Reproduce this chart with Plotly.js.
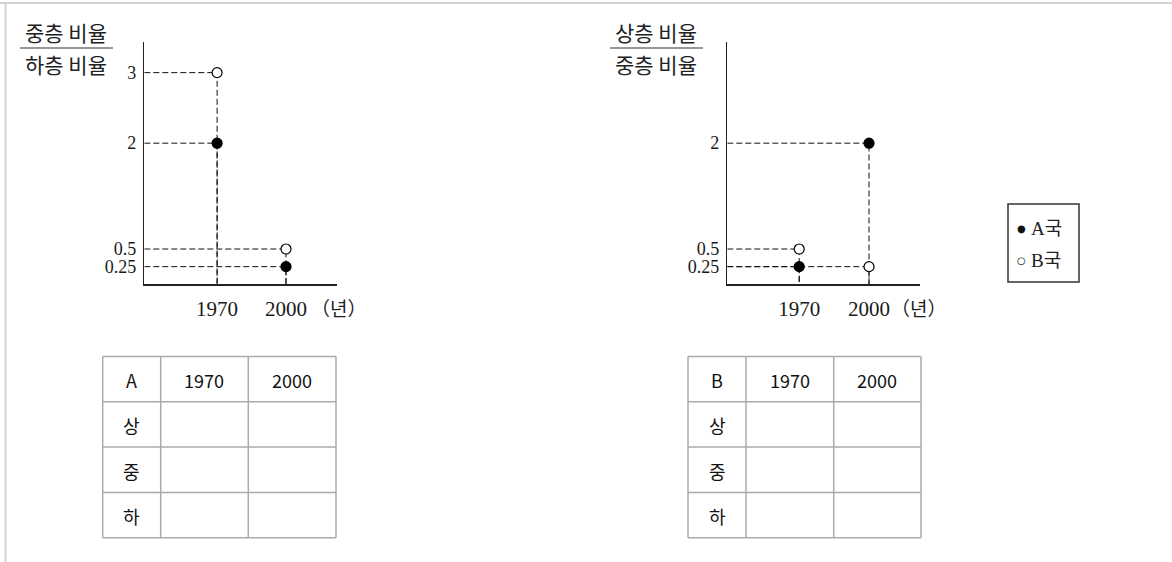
<!DOCTYPE html>
<html>
<head>
<meta charset="utf-8">
<script src="https://cdn.plot.ly/plotly-3.0.1.min.js"></script>
<style>
html, body { margin: 0; padding: 0; background: #fff; }
#chart { width: 1172px; height: 562px; }
</style>
</head>
<body>
<div id="chart"></div>
<script>
// data
var years = [1970, 2000];
var aMidLow = [2, 0.25];    // A국: 중층 비율 / 하층 비율
var bMidLow = [3, 0.5];     // B국
var aUpMid = [0.25, 2];     // A국: 상층 비율 / 중층 비율
var bUpMid = [0.5, 0.25];   // B국
var ticksMidLow = [0.25, 0.5, 2, 3];
var ticksUpMid = [0.25, 0.5, 2];
var tableRows = ['상', '중', '하'];
var tableCols = ['1970', '2000'];
var countries = ['A', 'B'];

var W = 1172, H = 562;
function px(x) { return x / W; }
function py(y) { return 1 - y / H; }

var xRange1 = [1938.3, 2022.2];
var xRange2 = [1939.1, 2021.9];
var yRange = [0, 3.434];

var serif = 'Liberation Serif, Times New Roman, serif';
var kor = 'Noto Sans CJK KR, sans-serif';

// dashed guide lines: from the y axis to the point, then down to the x axis
function guides(ys, xa, ya, x0) {
    return years.map(function(yr, i) {
        return {
            x: [x0, yr, yr], y: [ys[i], ys[i], 0],
            xaxis: xa, yaxis: ya, mode: 'lines', type: 'scatter',
            line: { color: '#111', width: 1, dash: '6px,3px' },
            hoverinfo: 'skip', showlegend: false
        };
    });
}

function points(ys, xa, ya, filled) {
    return {
        x: years, y: ys, xaxis: xa, yaxis: ya, mode: 'markers', type: 'scatter',
        marker: { size: 10, color: filled ? '#000' : '#fff', line: { color: '#000', width: 1.2 } },
        showlegend: false
    };
}

var data = [].concat(
    guides(bMidLow, 'x', 'y', xRange1[0]),
    guides(aMidLow, 'x', 'y', xRange1[0]),
    guides(bUpMid, 'x2', 'y2', xRange2[0]),
    guides(aUpMid, 'x2', 'y2', xRange2[0]),
    [
        points(aMidLow, 'x', 'y', true),
        points(bMidLow, 'x', 'y', false),
        points(aUpMid, 'x2', 'y2', true),
        points(bUpMid, 'x2', 'y2', false)
    ]
);

function xAxis(dom, range) {
    return {
        domain: dom, range: range, tickvals: years, ticktext: years.map(String),
        showline: true, linecolor: '#222', linewidth: 1.5, showgrid: false, zeroline: false,
        ticks: '', ticklabelstandoff: 5, tickfont: { family: serif, size: 21, color: '#1a1a1a' },
        fixedrange: true
    };
}
function yAxis(dom, vals, anchor) {
    return {
        domain: dom, range: yRange, tickvals: vals, ticktext: vals.map(String), anchor: anchor,
        showline: true, linecolor: '#222', linewidth: 1.5, showgrid: false, zeroline: false,
        ticks: '', ticklabelstandoff: 3, tickfont: { family: serif, size: 18, color: '#1a1a1a' },
        fixedrange: true
    };
}

var yDom = [py(284.3), py(42)];

var annotations = [];
var shapes = [];

function note(text, x, y, font, xanchor) {
    annotations.push({
        text: text, x: px(x), y: py(y), xref: 'paper', yref: 'paper',
        xanchor: xanchor || 'center', yanchor: 'middle', showarrow: false, font: font
    });
}
function hline(x0, x1, y, color, width) {
    shapes.push({ type: 'line', xref: 'paper', yref: 'paper', x0: px(x0), x1: px(x1),
        y0: py(y), y1: py(y), line: { color: color, width: width } });
}
function vline(x, y0, y1, color, width) {
    shapes.push({ type: 'line', xref: 'paper', yref: 'paper', x0: px(x), x1: px(x),
        y0: py(y0), y1: py(y1), line: { color: color, width: width } });
}

// axis titles written as fractions
var titleFont = { family: kor, size: 21, color: '#222' };
note('중층 비율', 66, 32, titleFont);
note('하층 비율', 66, 64, titleFont);
hline(20, 113, 48, '#333', 1.2);
note('상층 비율', 656, 32, titleFont);
note('중층 비율', 656, 64, titleFont);
hline(610, 703, 48, '#333', 1.2);

// unit after the last year
var unitFont = { family: kor, size: 19, color: '#222' };
note('（년）', 338, 307, unitFont);
note('（년）', 918, 307, unitFont);

// legend: ● A국 / ○ B국
var bulletFont = { family: 'DejaVu Sans', size: 10, color: '#111' };
var legFont = { family: serif + ', Noto Sans CJK KR', size: 19, color: '#222' };
note('●', 1021, 228, bulletFont);
note('○', 1021, 260, bulletFont);
note(countries[0] + '국', 1029, 228, legFont, 'left');
note(countries[1] + '국', 1029, 260, legFont, 'left');
shapes.push({ type: 'rect', xref: 'paper', yref: 'paper', x0: px(1008), x1: px(1079),
    y0: py(282), y1: py(204), line: { color: '#333', width: 1.5 } });

// page frame (top and left)
hline(0, W, 3, '#d4d4d4', 2);
vline(5.5, 3, H, '#d4d4d4', 2);

// empty answer tables, one per country
function answerTable(name, colEdges) {
    var top = 356.5, rowH = 45.3;
    var rows = [[name].concat(tableCols)].concat(tableRows.map(function(r) { return [r, '', '']; }));
    var bottom = top + rowH * rows.length;
    var cellFont = { family: kor, size: 18, color: '#111' };
    var gridColor = '#ababab';
    rows.forEach(function(row, r) {
        var yTop = top + rowH * r;
        hline(colEdges[0], colEdges[colEdges.length - 1], yTop, gridColor, 1.5);
        row.forEach(function(txt, c) {
            if (txt) note(txt, (colEdges[c] + colEdges[c + 1]) / 2, yTop + rowH / 2 + 1, cellFont);
        });
    });
    hline(colEdges[0], colEdges[colEdges.length - 1], bottom, gridColor, 1.5);
    colEdges.forEach(function(x) { vline(x, top, bottom, gridColor, 1.5); });
}
answerTable(countries[0], [102.7, 160.7, 248.3, 336]);
answerTable(countries[1], [688, 746, 833.7, 921]);

var layout = {
    width: W, height: H,
    margin: { t: 0, b: 0, l: 0, r: 0 },
    paper_bgcolor: '#fff', plot_bgcolor: 'rgba(0,0,0,0)',
    showlegend: false,
    xaxis: xAxis([px(144.3), px(337)], xRange1),
    yaxis: yAxis(yDom, ticksMidLow, 'x'),
    xaxis2: xAxis([px(727.3), px(920)], xRange2),
    yaxis2: yAxis(yDom, ticksUpMid, 'x2'),
    annotations: annotations,
    shapes: shapes
};
layout.xaxis2.anchor = 'y2';

Plotly.newPlot('chart', data, layout, { displayModeBar: false, staticPlot: true });
</script>
</body>
</html>
